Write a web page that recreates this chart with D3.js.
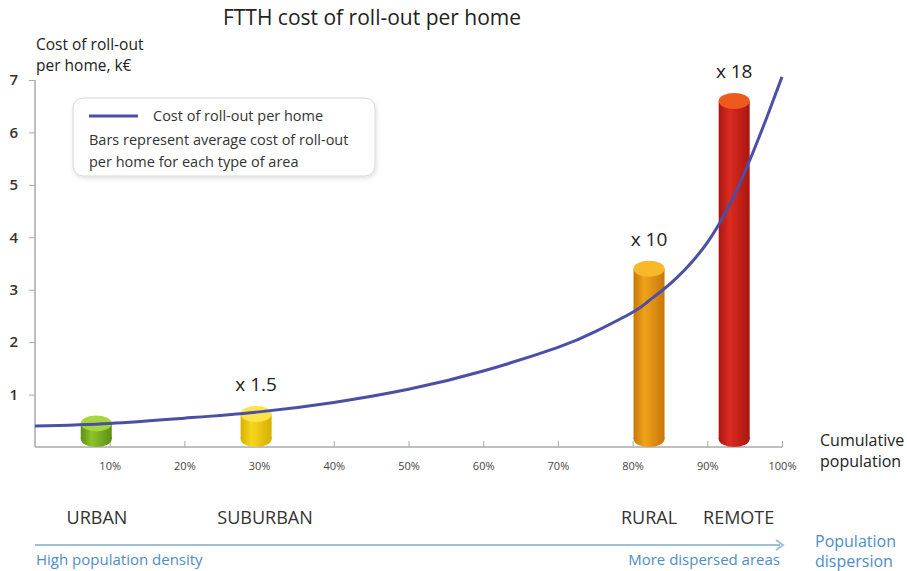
<!DOCTYPE html>
<html>
<head>
<meta charset="utf-8">
<script src="https://cdn.jsdelivr.net/npm/d3@7"></script>
<style>
  body { margin: 0; background: #fff; }
  svg text { font-family: 'Open Sans', 'Noto Sans', sans-serif; }
</style>
</head>
<body>
<div id="chart"></div>
<script>
// cumulative population (%) and cost of roll-out per home (k€)
const curvePct = [0, 10, 20, 30, 40, 50, 60, 70, 75, 80, 82, 84, 86, 88, 90, 92, 94, 96, 98, 100];
const curveCost = [0.4, 0.45, 0.55, 0.67, 0.85, 1.1, 1.45, 1.9, 2.2, 2.57, 2.77, 2.99, 3.24, 3.54, 3.9, 4.36, 4.92, 5.58, 6.3, 7.06];

// bars: average cost per type of area
const areas = ['URBAN', 'SUBURBAN', 'RURAL', 'REMOTE'];
const barPct = [8.2, 29.6, 82.2, 93.6];
const barCost = [0.45, 0.63, 3.4, 6.6];
const multipliers = ['', 'x 1.5', 'x 10', 'x 18'];
const areaLabelPct = [8.3, 30.8, 82.2, 94.2];
const barColors = [
  ['#5d8f12', '#8cc32a', '#a6d63c'],
  ['#d6b000', '#f7d51f', '#fbe34a'],
  ['#c77708', '#f0a21b', '#f7b928'],
  ['#a8170f', '#dc2b21', '#ee5a1d']
];

const xTicks = [10, 20, 30, 40, 50, 60, 70, 80, 90, 100];
const yTicks = [1, 2, 3, 4, 5, 6, 7];

const W = 907, H = 571;
const svg = d3.select('#chart').append('svg').attr('width', W).attr('height', H);

const x = d3.scaleLinear().domain([0, 100]).range([35, 782]);
const y = d3.scaleLinear().domain([0, 7]).range([447, 80]);

const defs = svg.append('defs');
barColors.forEach((c, i) => {
  const g = defs.append('linearGradient').attr('id', 'bar' + i)
    .attr('x1', '0%').attr('x2', '100%');
  g.append('stop').attr('offset', '0%').attr('stop-color', c[0]);
  g.append('stop').attr('offset', '35%').attr('stop-color', c[1]);
  g.append('stop').attr('offset', '100%').attr('stop-color', c[0]);
});
const shadow = defs.append('filter').attr('id', 'shadow')
  .attr('x', '-10%').attr('y', '-10%').attr('width', '120%').attr('height', '130%');
shadow.append('feDropShadow').attr('dx', 1).attr('dy', 2).attr('stdDeviation', 2)
  .attr('flood-color', '#000').attr('flood-opacity', 0.12);

// title
svg.append('text').attr('x', 372).attr('y', 25).attr('text-anchor', 'middle')
  .attr('font-size', 21).attr('fill', '#222').text('FTTH cost of roll-out per home');

// y axis title
svg.append('text').attr('x', 36).attr('y', 50).attr('font-size', 15.5).attr('fill', '#222').text('Cost of roll-out');
svg.append('text').attr('x', 36).attr('y', 71).attr('font-size', 15.5).attr('fill', '#222').text('per home, k€');

// y axis
const yAxis = svg.append('g').attr('transform', 'translate(' + x(0) + ',0)')
  .call(d3.axisLeft(y).tickValues(yTicks).tickSize(6).tickPadding(11).tickFormat(d3.format('d')));
yAxis.select('.domain').attr('stroke', '#aaa').attr('stroke-width', 1.5).attr('d', 'M0,' + y(7) + 'V' + y(0));
yAxis.selectAll('.tick line').attr('stroke', '#aaa');
yAxis.selectAll('.tick text').attr('font-size', 15).attr('font-weight', 600).attr('fill', '#333');

// x axis
const xAxis = svg.append('g').attr('transform', 'translate(0,' + y(0) + ')')
  .call(d3.axisBottom(x).tickValues(xTicks).tickSize(-6).tickPadding(15).tickFormat(d => d + '%'));
xAxis.select('.domain').attr('stroke', '#aaa').attr('stroke-width', 1.5).attr('d', 'M' + x(0) + ',0H' + x(100));
xAxis.selectAll('.tick line').attr('stroke', '#aaa');
xAxis.selectAll('.tick text').attr('font-size', 11).attr('fill', '#444');

svg.append('text').attr('x', 820).attr('y', 446).attr('font-size', 16).attr('fill', '#222').text('Cumulative');
svg.append('text').attr('x', 820).attr('y', 467).attr('font-size', 16).attr('fill', '#222').text('population');

// legend box
svg.append('rect').attr('x', 73).attr('y', 98).attr('width', 302).attr('height', 78).attr('rx', 10)
  .attr('fill', '#fff').attr('stroke', '#d8d8d8').attr('filter', 'url(#shadow)');
svg.append('line').attr('x1', 89).attr('x2', 138).attr('y1', 116).attr('y2', 116)
  .attr('stroke', '#4c4fa6').attr('stroke-width', 3);
svg.append('text').attr('x', 153).attr('y', 121).attr('font-size', 14.5).attr('fill', '#333').text('Cost of roll-out per home');
svg.append('text').attr('x', 89).attr('y', 145).attr('font-size', 14.5).attr('fill', '#333').text('Bars represent average cost of roll-out');
svg.append('text').attr('x', 89).attr('y', 167).attr('font-size', 14.5).attr('fill', '#333').text('per home for each type of area');

// bars (cylinders) - drawn under the curve for the small ones
const barW = 31, ry = 8;
const bars = svg.append('g').selectAll('g').data(areas).join('g');
bars.append('rect')
  .attr('x', (d, i) => x(barPct[i]) - barW / 2)
  .attr('y', (d, i) => y(barCost[i]))
  .attr('width', barW)
  .attr('height', (d, i) => y(0) - y(barCost[i]) - ry)
  .attr('fill', (d, i) => 'url(#bar' + i + ')');
bars.append('ellipse')
  .attr('cx', (d, i) => x(barPct[i])).attr('cy', y(0) - ry)
  .attr('rx', barW / 2).attr('ry', ry)
  .attr('fill', (d, i) => 'url(#bar' + i + ')');
bars.append('ellipse')
  .attr('cx', (d, i) => x(barPct[i])).attr('cy', (d, i) => y(barCost[i]))
  .attr('rx', barW / 2).attr('ry', ry)
  .attr('fill', (d, i) => barColors[i][2]);

// curve
const line = d3.line().curve(d3.curveNatural)
  .x((d, i) => x(curvePct[i])).y(d => y(d));
svg.append('path').datum(curveCost)
  .attr('fill', 'none').attr('stroke', '#4c4fa6').attr('stroke-width', 3).attr('d', line);

// tall bars sit in front of the curve
bars.filter((d, i) => i >= 2).raise();

// multipliers
svg.append('g').selectAll('text').data(multipliers).join('text')
  .attr('x', (d, i) => x(barPct[i]))
  .attr('y', (d, i) => y(barCost[i]) - 23)
  .attr('text-anchor', 'middle').attr('font-size', 19).attr('fill', '#222')
  .text(d => d);

// area labels
svg.append('g').selectAll('text').data(areas).join('text')
  .attr('x', (d, i) => x(areaLabelPct[i])).attr('y', 524)
  .attr('text-anchor', 'middle').attr('font-size', 18).attr('fill', '#333')
  .text(d => d);

// population dispersion arrow
svg.append('line').attr('x1', x(0)).attr('x2', x(100) - 2).attr('y1', 545).attr('y2', 545)
  .attr('stroke', '#9fbfd6').attr('stroke-width', 2);
svg.append('path').attr('d', `M${x(100) - 6},540 L${x(100) + 1},545 L${x(100) - 6},550`)
  .attr('fill', 'none').attr('stroke', '#9fbfd6').attr('stroke-width', 2);
svg.append('text').attr('x', 36).attr('y', 565).attr('font-size', 15).attr('fill', '#4f8cc9').text('High population density');
svg.append('text').attr('x', 780).attr('y', 565).attr('text-anchor', 'end').attr('font-size', 15).attr('fill', '#4f8cc9').text('More dispersed areas');
svg.append('text').attr('x', 815).attr('y', 547).attr('font-size', 16).attr('fill', '#4f8cc9').text('Population');
svg.append('text').attr('x', 815).attr('y', 567).attr('font-size', 16).attr('fill', '#4f8cc9').text('dispersion');
</script>
</body>
</html>
